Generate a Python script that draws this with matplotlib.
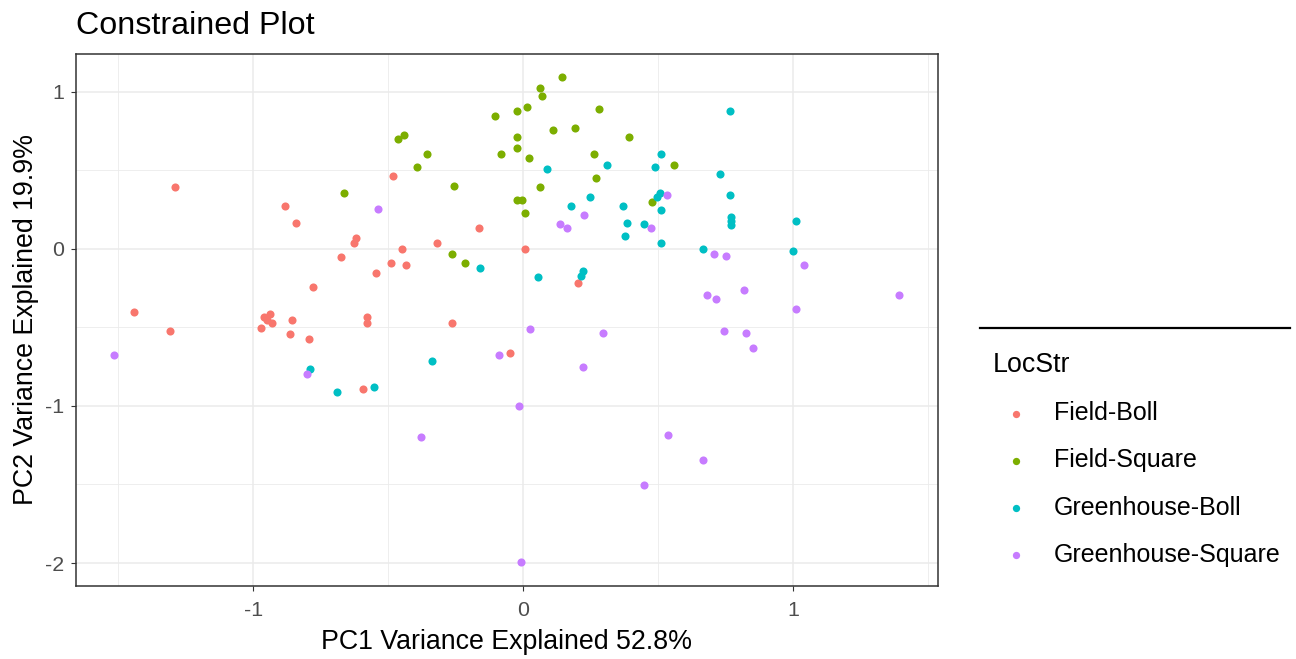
import matplotlib.pyplot as plt
from matplotlib.lines import Line2D
from matplotlib.ticker import MultipleLocator

plt.rcParams['font.family'] = ['Liberation Sans', 'DejaVu Sans']
plt.rcParams['axes.unicode_minus'] = False

groups = ["Field-Boll", "Field-Square", "Greenhouse-Boll", "Greenhouse-Square"]
colors = ["#F8766D", "#7CAE00", "#00BFC4", "#C77CFF"]

field_boll_x = [-1.289, -0.883, -0.842, -0.619, -0.627, -0.675, -0.779, -1.440,
                -1.309, -0.971, -0.959, -0.937, -0.930, -0.950, -0.857, -0.863,
                -0.793, -0.593, -0.483, -0.165, -0.317, -0.448, 0.007, -0.490,
                -0.433, -0.544, 0.205, -0.579, -0.579, -0.262, -0.047]
field_boll_y = [0.391, 0.272, 0.164, 0.070, 0.036, -0.049, -0.240, -0.403,
                -0.522, -0.501, -0.437, -0.416, -0.475, -0.455, -0.450, -0.543,
                -0.571, -0.890, 0.461, 0.132, 0.036, 0.000, 0.000, -0.093,
                -0.106, -0.153, -0.217, -0.437, -0.470, -0.470, -0.664]

field_square_x = [-0.662, 0.144, 0.062, 0.069, 0.015, -0.021, -0.104, 0.281,
                  0.110, 0.193, 0.393, -0.462, -0.441, -0.021, -0.021, -0.357,
                  -0.083, 0.021, -0.393, 0.262, 0.269, -0.254, 0.062, -0.023,
                  -0.004, 0.006, -0.262, -0.214, 0.559, 0.479]
field_square_y = [0.355, 1.092, 1.024, 0.973, 0.903, 0.875, 0.843, 0.890,
                  0.758, 0.771, 0.711, 0.697, 0.722, 0.711, 0.639, 0.605,
                  0.605, 0.580, 0.520, 0.605, 0.450, 0.401, 0.391, 0.308,
                  0.308, 0.225, -0.036, -0.093, 0.533, 0.297]

gh_boll_x = [0.310, 0.090, 0.247, 0.178, 0.372, 0.385, 0.447, 0.379,
             -0.158, 0.056, 0.221, 0.214, 0.765, 0.510, 0.490, 0.731,
             0.765, 0.507, 0.495, 0.510, 0.771, 0.771, 0.771, 1.012,
             0.510, 0.668, 0.999, -0.337, -0.552, -0.790, -0.689]
gh_boll_y = [0.533, 0.510, 0.331, 0.272, 0.272, 0.166, 0.155, 0.083,
             -0.121, -0.178, -0.142, -0.174, 0.877, 0.605, 0.520, 0.474,
             0.342, 0.355, 0.329, 0.248, 0.200, 0.175, 0.150, 0.176,
             0.036, 0.000, -0.013, -0.713, -0.879, -0.768, -0.913]

gh_square_x = [-1.516, -0.801, -0.537, 0.227, 0.137, 0.164, 0.532, 0.475,
               0.709, 0.751, 1.041, 0.681, 0.716, 0.820, 1.012, 1.393,
               0.027, 0.296, -0.090, 0.221, -0.014, -0.379, 0.447, -0.007,
               0.743, 0.826, 0.853, 0.537, 0.668]
gh_square_y = [-0.675, -0.798, 0.251, 0.213, 0.155, 0.130, 0.342, 0.130,
               -0.034, -0.046, -0.106, -0.297, -0.320, -0.261, -0.380, -0.297,
               -0.511, -0.535, -0.675, -0.749, -0.998, -1.197, -1.505, -1.994,
               -0.522, -0.535, -0.631, -1.187, -1.342]

xs = [field_boll_x, field_square_x, gh_boll_x, gh_square_x]
ys = [field_boll_y, field_square_y, gh_boll_y, gh_square_y]

fig = plt.figure(figsize=(12.96, 6.59), dpi=100)
ax = fig.add_axes([0.0586, 0.1108, 0.6652, 0.8077])

for i in range(len(groups)):
    ax.scatter(xs[i], ys[i], s=34, color=colors[i], label=groups[i],
               linewidths=0, zorder=3)

ax.set_xlim(-1.656, 1.537)
ax.set_ylim(-2.146, 1.242)
ax.xaxis.set_major_locator(MultipleLocator(1))
ax.yaxis.set_major_locator(MultipleLocator(1))
ax.xaxis.set_minor_locator(MultipleLocator(0.5))
ax.yaxis.set_minor_locator(MultipleLocator(0.5))
ax.grid(True, which='major', color='#EBEBEB', linewidth=1.1, zorder=0)
ax.grid(True, which='minor', color='#EBEBEB', linewidth=0.6, zorder=0)
ax.set_axisbelow(True)
ax.tick_params(which='major', length=3.6, width=0.8, color='#333333',
               labelsize=15.4, labelcolor='#4D4D4D')
ax.tick_params(axis='x', which='major', pad=7)
ax.tick_params(axis='y', which='major', pad=5)
ax.tick_params(which='minor', length=0)
for sp in ax.spines.values():
    sp.set_color('#333333')
    sp.set_linewidth(1.1)

ax.set_title("Constrained Plot", loc='left', fontsize=23.2, pad=14)
ax.set_xlabel("PC1 Variance Explained 52.8%", fontsize=19.3, labelpad=7)
ax.set_ylabel("PC2 Variance Explained 19.9%", fontsize=19.3, labelpad=4)

fig.add_artist(Line2D([980 / 1296, 1290 / 1296], [1 - 328 / 659, 1 - 328 / 659],
                      color='black', linewidth=1.6))

handles, labels = ax.get_legend_handles_labels()
leg = fig.legend(handles, labels, title="LocStr", loc='upper left',
                 bbox_to_anchor=(993 / 1296, 1 - 352 / 659), frameon=False,
                 fontsize=18, title_fontsize=19.3, alignment='left',
                 handlelength=1.84, handletextpad=0.6, labelspacing=0.93,
                 borderpad=0, borderaxespad=0, markerscale=0.9)

plt.savefig('out.png', dpi=100)
